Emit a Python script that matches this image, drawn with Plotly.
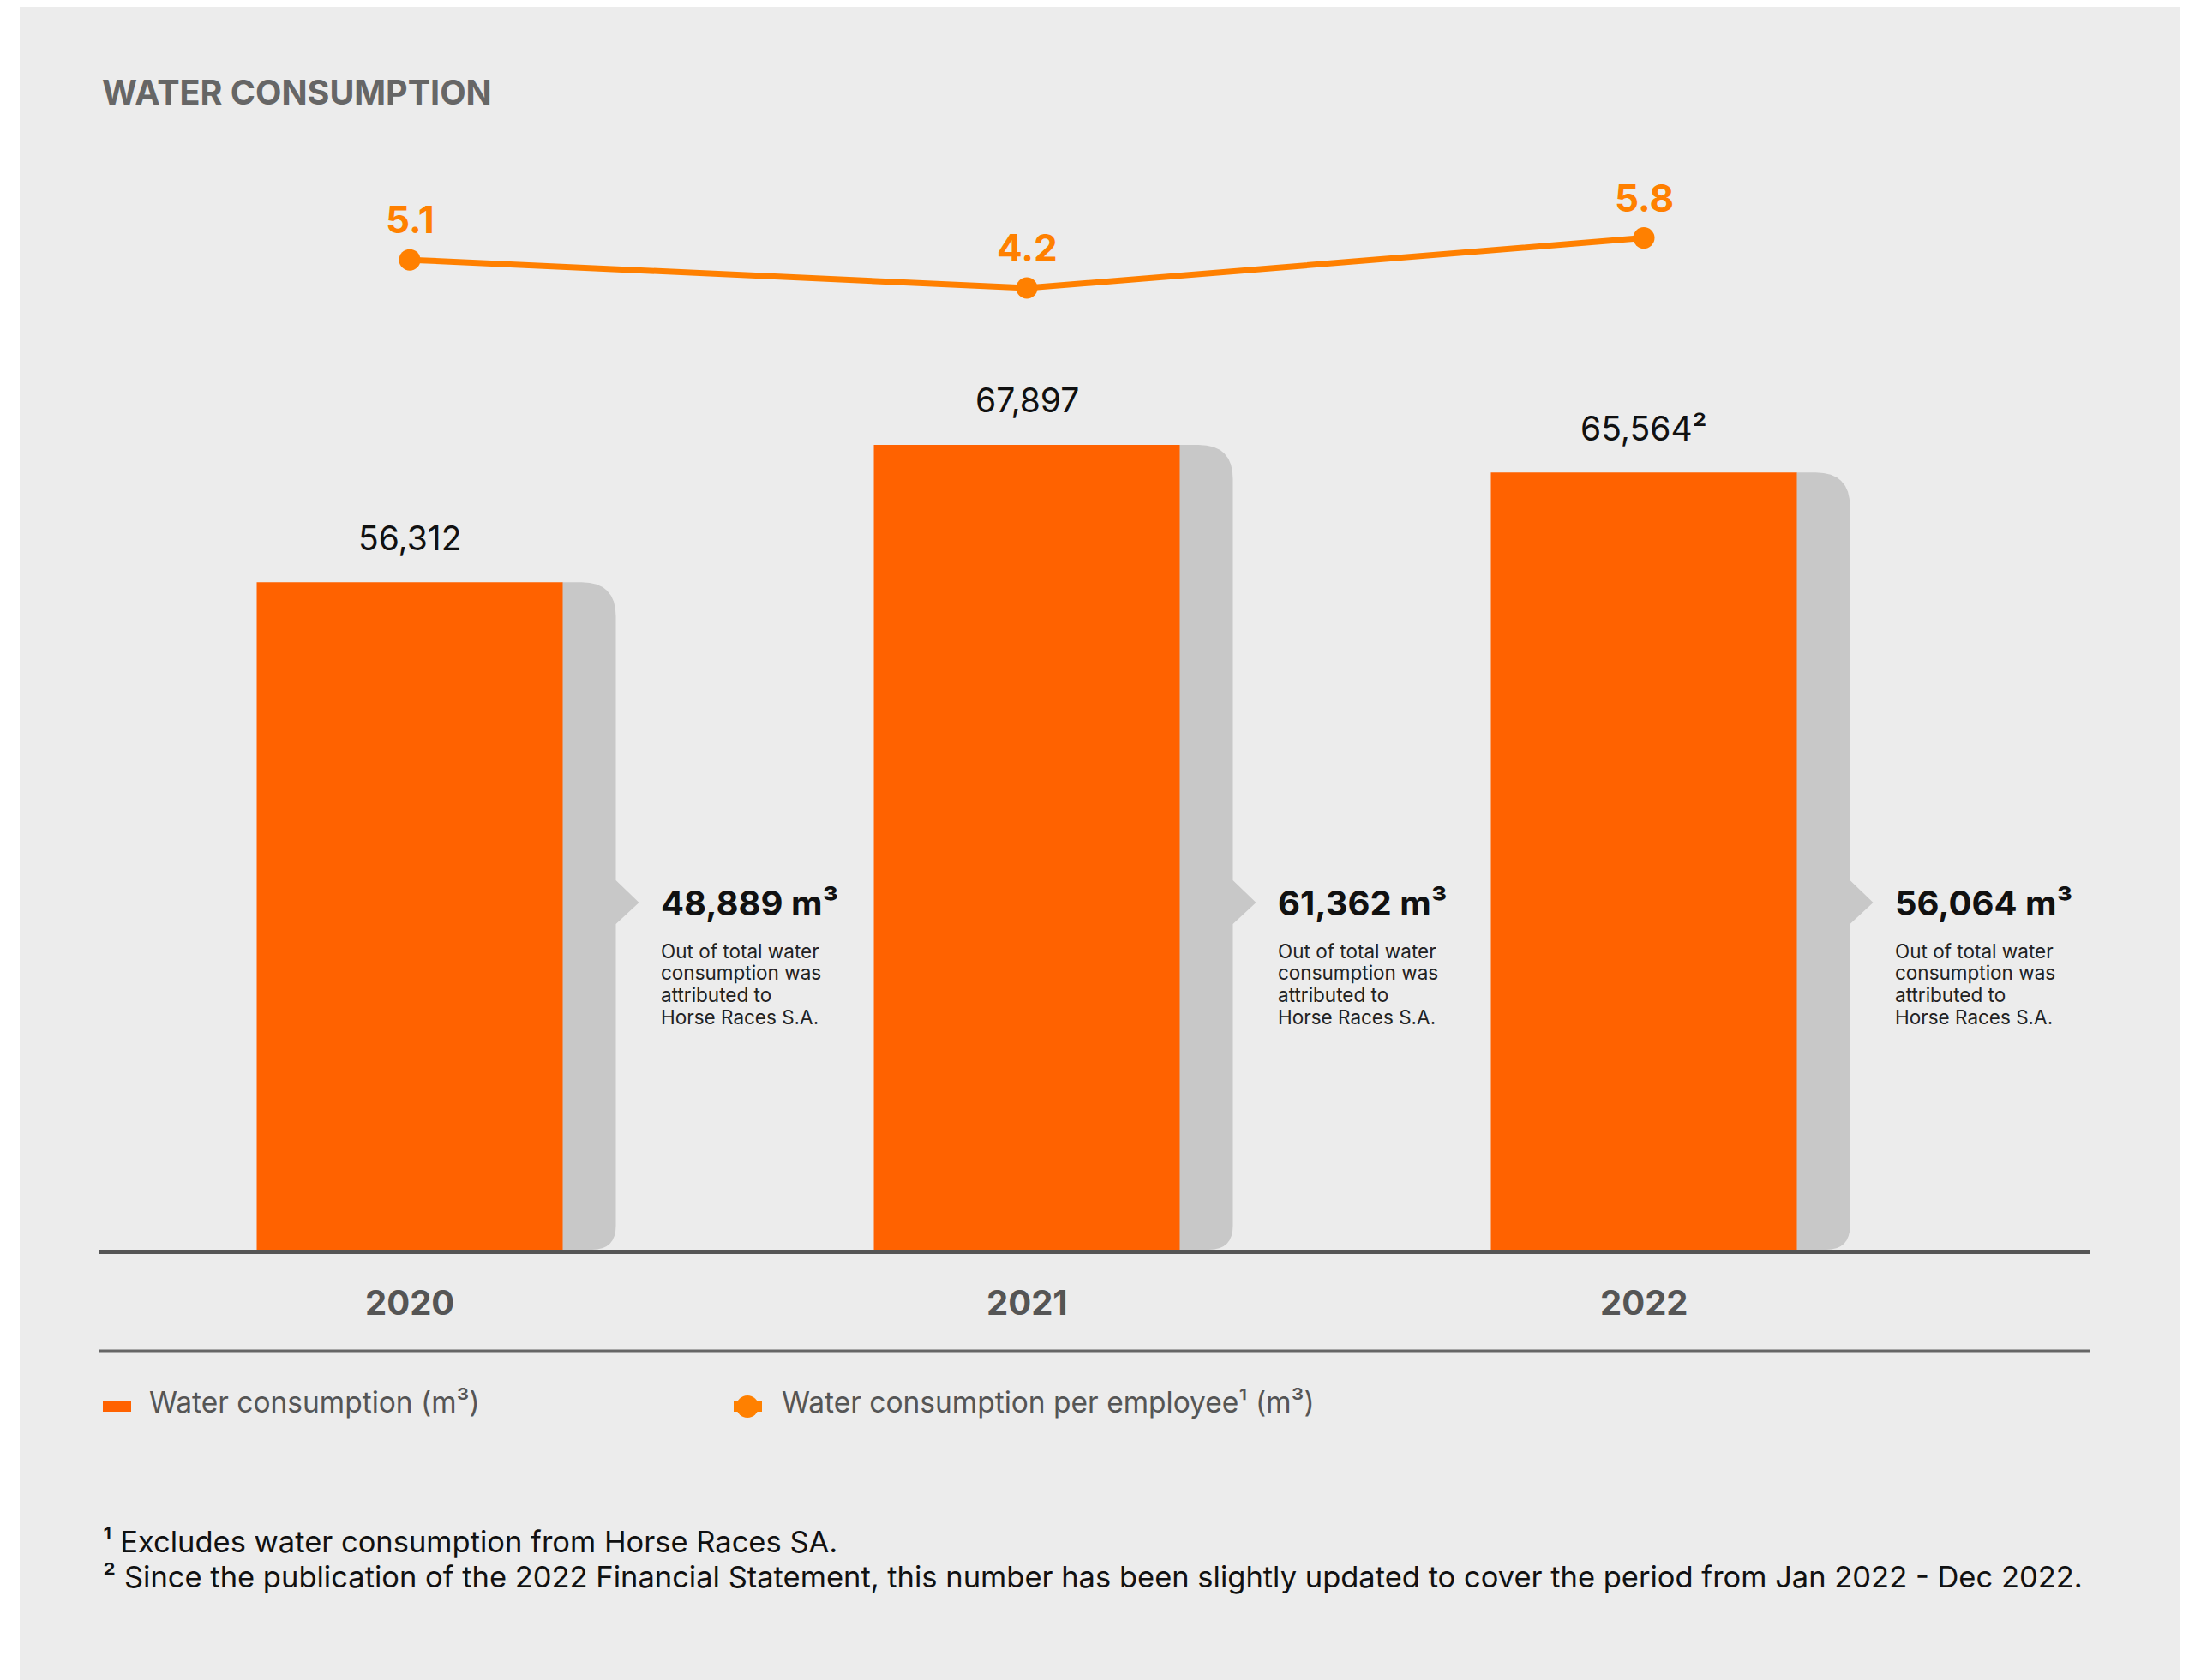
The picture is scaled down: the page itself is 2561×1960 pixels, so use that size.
import plotly.graph_objects as go

# ---- data -------------------------------------------------------------
years = ["2020", "2021", "2022"]
water_total = [56312, 67897, 65564]          # m³, total water consumption
water_total_notes = ["", "", "²"]             # footnote markers on bar labels
per_employee = [5.1, 4.2, 5.8]                # m³ per employee
horse_races = [48889, 61362, 56064]           # m³ attributed to Horse Races S.A.
side_caption = ["Out of total water", "consumption was", "attributed to", "Horse Races S.A."]
legend_labels = ["Water consumption (m³)", "Water consumption per employee¹ (m³)"]
footnotes = [
    "¹ Excludes water consumption from Horse Races SA.",
    "² Since the publication of the 2022 Financial Statement, this number has been slightly "
    "updated to cover the period from Jan 2022 - Dec 2022.",
]

# ---- page geometry (pixels) ------------------------------------------
W, H = 2561, 1960
FONT = "Inter"
BAR_ORANGE = "#FF6200"
LINE_ORANGE = "#FF8000"
SHADOW = "#C8C8C8"
PANEL = "#ECECEC"

X_L, X_R = 116, 2438            # horizontal extent of the plotting strip
BAR_C0, BAR_STEP = 478, 720     # pixel of first category centre and spacing
X_RANGE = [(X_L - BAR_C0) / BAR_STEP, (X_R - BAR_C0) / BAR_STEP]
BAR_W = 357 / BAR_STEP

Y_BASE, Y_TOP = 1458, 400       # bar axis domain in pixels
Y_MAX = 76500
Y2_BOT, Y2_TOP = 400, 200       # per-employee axis domain in pixels
Y2_RANGE = [2.447, 7.926]


def pdx(px):
    """pixel length -> x data length"""
    return px / BAR_STEP


def y_at(py):
    """pixel row -> bar-axis value"""
    return (Y_BASE - py) / (Y_BASE - Y_TOP) * Y_MAX


def pdy(px):
    return px / (Y_BASE - Y_TOP) * Y_MAX


def py_paper(py):
    return 1 - py / H


def px_paper(px):
    return px / W


fig = go.Figure()

fig.add_trace(go.Bar(
    x=list(range(len(years))), y=water_total, width=BAR_W,
    marker=dict(color=BAR_ORANGE, line=dict(width=0)),
    name=legend_labels[0], showlegend=False, hoverinfo="skip",
))

fig.add_trace(go.Scatter(
    x=list(range(len(years))), y=per_employee, yaxis="y2",
    mode="lines+markers",
    line=dict(color=LINE_ORANGE, width=7),
    marker=dict(color=LINE_ORANGE, size=25),
    name=legend_labels[1], showlegend=False, hoverinfo="skip",
))

shapes = [
    # grey panel behind everything
    dict(type="rect", xref="paper", yref="paper",
         x0=px_paper(23), x1=px_paper(2543), y0=0, y1=py_paper(8),
         fillcolor=PANEL, line=dict(width=0), layer="below"),
    # separator above the legend
    dict(type="line", xref="paper", yref="paper",
         x0=px_paper(X_L), x1=px_paper(X_R), y0=py_paper(1576), y1=py_paper(1576),
         line=dict(color="#666666", width=3)),
    # legend swatch: bars
    dict(type="rect", xref="paper", yref="paper",
         x0=px_paper(120), x1=px_paper(153), y0=py_paper(1647), y1=py_paper(1635),
         fillcolor=BAR_ORANGE, line=dict(width=0)),
    # legend swatch: line with marker
    dict(type="line", xref="paper", yref="paper",
         x0=px_paper(856), x1=px_paper(889), y0=py_paper(1641), y1=py_paper(1641),
         line=dict(color=LINE_ORANGE, width=12)),
    dict(type="circle", xref="paper", yref="paper",
         x0=px_paper(859), x1=px_paper(885), y0=py_paper(1654), y1=py_paper(1628),
         fillcolor=LINE_ORANGE, line=dict(width=0)),
]

annotations = [
    dict(text="<b>WATER CONSUMPTION</b>", xref="paper", yref="paper",
         x=px_paper(117), y=py_paper(108), xanchor="left", yanchor="middle",
         showarrow=False, font=dict(family=FONT, size=39.5, color="#666666")),
]

# grey "tab" shadow with a pointer next to each bar, plus its caption
SH_W = 62
R_TOP, R_BOT = 40, 28
ARROW_TOP, ARROW_TIP, ARROW_BOT, ARROW_LEN = 1027, 1053, 1078, 27
for i, (v, hr) in enumerate(zip(water_total, horse_races)):
    xl = i + BAR_W / 2 - pdx(1)
    xr = i + BAR_W / 2 + pdx(SH_W)
    path = (
        f"M {xl},0 L {xl},{v} "
        f"L {xr - pdx(R_TOP)},{v} Q {xr},{v} {xr},{v - pdy(R_TOP)} "
        f"L {xr},{y_at(ARROW_TOP)} L {xr + pdx(ARROW_LEN)},{y_at(ARROW_TIP)} "
        f"L {xr},{y_at(ARROW_BOT)} "
        f"L {xr},{pdy(R_BOT)} Q {xr},0 {xr - pdx(R_BOT)},0 Z"
    )
    shapes.append(dict(type="path", xref="x", yref="y", path=path,
                       fillcolor=SHADOW, line=dict(width=0), layer="below"))

    tx = xr + pdx(50)
    annotations.append(dict(
        text=f"<b>{hr:,} m³</b>", xref="x", yref="paper",
        x=tx, y=py_paper(ARROW_TIP), xanchor="left", yanchor="middle",
        showarrow=False, font=dict(family=FONT, size=40, color="#111111")))
    for k, line in enumerate(side_caption):
        annotations.append(dict(
            text=line, xref="x", yref="paper",
            x=tx, y=py_paper(1109 + k * 25.7), xanchor="left", yanchor="middle",
            showarrow=False, font=dict(family=FONT, size=22.5, color="#222222")))

# value labels above the bars
for i, (v, note) in enumerate(zip(water_total, water_total_notes)):
    annotations.append(dict(
        text=f"{v:,}{note}", xref="x", yref="y", x=i, y=v,
        xanchor="center", yanchor="middle", yshift=52, showarrow=False,
        font=dict(family=FONT, size=39, color="#111111")))

# per-employee labels above the markers
for i, v in enumerate(per_employee):
    annotations.append(dict(
        text=f"<b>{v:.1f}</b>", xref="x", yref="y2", x=i, y=v,
        xanchor="center", yanchor="middle", yshift=47, showarrow=False,
        font=dict(family=FONT, size=44, color=LINE_ORANGE)))

# category labels under the axis
for i, yr in enumerate(years):
    annotations.append(dict(
        text=f"<b>{yr}</b>", xref="x", yref="paper", x=i, y=py_paper(1519),
        xanchor="center", yanchor="middle", showarrow=False,
        font=dict(family=FONT, size=40, color="#555555")))

# legend text
for px, label in zip([172, 910], legend_labels):
    annotations.append(dict(
        text=label, xref="paper", yref="paper", x=px_paper(px), y=py_paper(1636),
        xanchor="left", yanchor="middle", showarrow=False,
        font=dict(family=FONT, size=33.5, color="#555555")))

# footnotes
for k, note in enumerate(footnotes):
    annotations.append(dict(
        text=note, xref="paper", yref="paper", x=px_paper(118), y=py_paper(1798 + k * 41),
        xanchor="left", yanchor="middle", showarrow=False,
        font=dict(family=FONT, size=34.5, color="#111111")))

fig.update_layout(
    width=W, height=H,
    margin=dict(l=0, r=0, t=0, b=0),
    paper_bgcolor="white",
    plot_bgcolor="rgba(0,0,0,0)",
    showlegend=False,
    xaxis=dict(domain=[px_paper(X_L), px_paper(X_R)], range=X_RANGE,
               showline=True, linecolor="#555555", linewidth=5,
               showgrid=False, zeroline=False, showticklabels=False, ticks="",
               fixedrange=True, anchor="y"),
    yaxis=dict(domain=[py_paper(Y_BASE), py_paper(Y_TOP)], range=[0, Y_MAX],
               visible=False, showgrid=False, zeroline=False, fixedrange=True),
    yaxis2=dict(domain=[py_paper(Y2_BOT), py_paper(Y2_TOP)], range=Y2_RANGE,
                visible=False, showgrid=False, zeroline=False, anchor="x",
                fixedrange=True),
    shapes=shapes,
    annotations=annotations,
)

fig.write_html("out.html")
